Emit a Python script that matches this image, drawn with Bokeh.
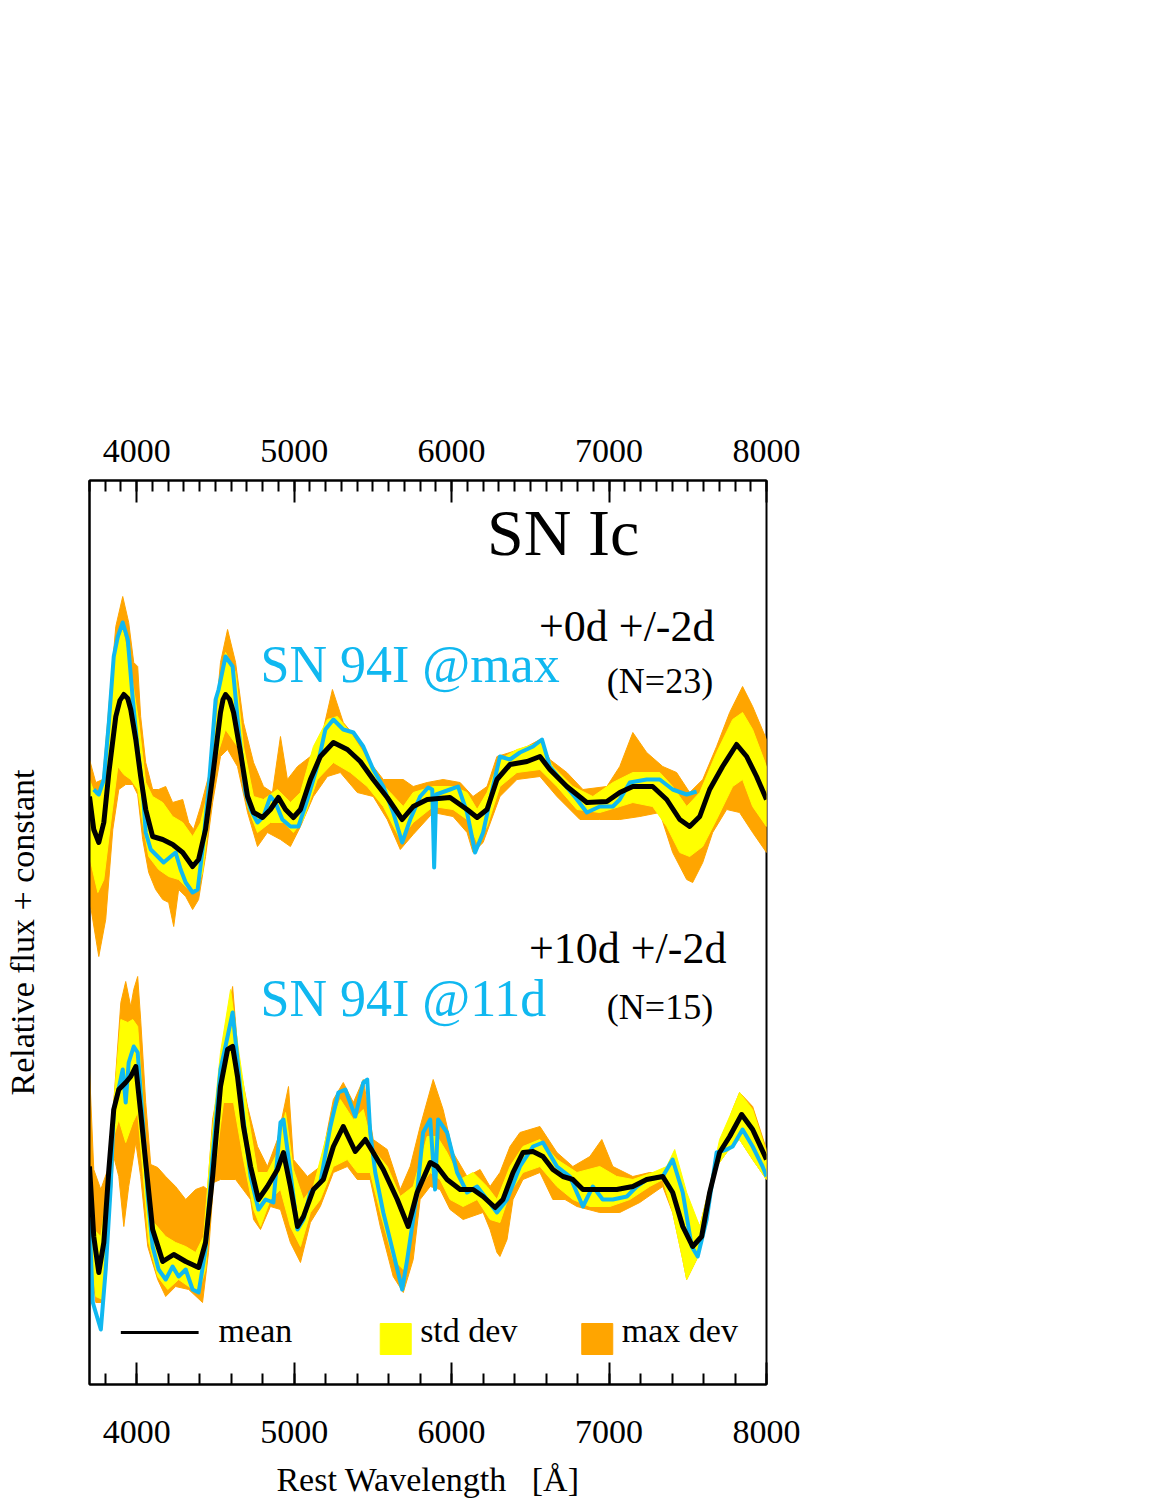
from bokeh.plotting import figure
from bokeh.models import Range1d, LinearAxis, SingleIntervalTicker, FixedTicker, Label
from bokeh.embed import file_html
from bokeh.resources import INLINE

FONT = "Liberation Serif"
BLUE = "#10B8F0"
YELLOW = "#FFFF00"
ORANGE = "#FFA500"

# ---------------- data: relative flux ----------------
# constants added to each epoch's spectra (the "+ constant" of the y label)
TOP_OFFSET = 5.85
BOTTOM_OFFSET = 2.15

# ---- epoch +0d +/-2d (N=23) ----
top_mean_wl = [3700, 3727, 3759, 3791, 3823, 3867, 3893, 3918, 3943, 3962, 3994, 4025, 4057, 4101, 4165, 4228, 4292,
               4355, 4393, 4437, 4482, 4532, 4548, 4564, 4590, 4615, 4659, 4704, 4742, 4799, 4849, 4900, 4945, 4995,
               5040, 5103, 5166, 5249, 5338, 5420, 5502, 5591, 5686, 5756, 5845, 5990, 6098, 6162, 6225,
               6288, 6371, 6479, 6561, 6624, 6732, 6859, 6986, 7068, 7151, 7277, 7366, 7449, 7512, 7576,
               7639, 7721, 7810, 7874, 7937, 8000]
top_mean = [0.03, -0.30, -0.43, -0.23, 0.27, 0.83, 0.99, 1.05, 1.01, 0.90, 0.60, 0.23, -0.10, -0.37, -0.40, -0.45, -0.53,
            -0.67, -0.60, -0.30, 0.23, 0.87, 1.00, 1.05, 1.00, 0.87, 0.47, 0.03, -0.13, -0.18, -0.10, 0.02, -0.10, -0.18,
            -0.10, 0.20, 0.43, 0.57, 0.50, 0.38, 0.20, 0.02, -0.20, -0.07, 0.00, 0.02, -0.10, -0.18, -0.10,
            0.20, 0.35, 0.38, 0.43, 0.30, 0.13, -0.03, -0.02, 0.07, 0.13, 0.13, 0.00, -0.20, -0.27, -0.17,
            0.10, 0.33, 0.55, 0.43, 0.23, 0.00]

top_94i_wl = [3727, 3759, 3791, 3823, 3854, 3880, 3911, 3943, 3975, 4006, 4038, 4057, 4089, 4133, 4171,
              4216, 4247, 4279, 4311, 4355, 4387, 4418, 4456, 4501, 4520, 4564, 4609, 4647, 4691, 4723,
              4767, 4805, 4849, 4881, 4925, 4976, 5027, 5084, 5147, 5198, 5249, 5312, 5376, 5439, 5502,
              5566, 5629, 5686, 5737, 5800, 5851, 5877, 5889, 5902, 5990, 6041, 6098, 6149, 6200, 6263,
              6307, 6371, 6434, 6517, 6574, 6624, 6707, 6796, 6859, 6941, 7024, 7068, 7132, 7239, 7322,
              7404, 7493, 7556]
top_94i = [0.10, 0.05, 0.20, 0.77, 1.43, 1.63, 1.77, 1.60, 1.00, 0.50, 0.10, -0.33, -0.50, -0.57, -0.63,
           -0.57, -0.53, -0.70, -0.83, -0.93, -0.90, -0.50, 0.10, 1.00, 1.10, 1.43, 1.33, 0.70, 0.07, -0.10,
           -0.23, -0.17, 0.03, -0.03, -0.20, -0.27, -0.27, 0.00, 0.33, 0.70, 0.80, 0.70, 0.67, 0.53, 0.30,
           0.13, -0.13, -0.43, -0.20, 0.03, 0.12, 0.10, -0.68, 0.05, 0.10, 0.13, -0.13, -0.53, -0.33, 0.13,
           0.43, 0.40, 0.47, 0.53, 0.60, 0.33, 0.17, 0.00, -0.13, -0.07, -0.07, 0.00, 0.17, 0.20, 0.20,
           0.10, 0.05, 0.08]

top_max_hi_wl = [3700, 3740, 3784, 3823, 3867, 3911, 3949, 3981, 4006, 4025, 4057, 4101, 4139, 4184, 4228,
                 4292, 4330, 4361, 4406, 4456, 4501, 4532, 4577, 4628, 4678, 4742, 4805, 4862, 4913, 4957,
                 5021, 5103, 5166, 5243, 5312, 5401, 5483, 5566, 5693, 5756, 5845, 5946, 6054, 6136, 6225,
                 6288, 6371, 6479, 6561, 6624, 6732, 6834, 6986, 7068, 7151, 7239, 7341, 7429, 7512, 7595,
                 7683, 7766, 7848, 7912, 8000]
top_max_hi = [0.40, 0.17, 0.20, 0.93, 1.73, 2.03, 1.77, 1.37, 1.33, 0.83, 0.37, 0.10, 0.10, 0.13, -0.03,
              0.00, -0.23, -0.30, -0.07, 0.23, 0.83, 1.37, 1.70, 1.37, 0.77, 0.37, 0.13, 0.07, 0.63, 0.20,
              0.33, 0.43, 0.57, 1.10, 0.77, 0.60, 0.37, 0.20, 0.20, 0.13, 0.17, 0.20, 0.17, 0.03, 0.13,
              0.43, 0.47, 0.53, 0.60, 0.40, 0.27, 0.10, 0.13, 0.33, 0.67, 0.47, 0.33, 0.27, 0.07, 0.20,
              0.53, 0.87, 1.13, 0.93, 0.60]

top_max_lo_wl = [3700, 3759, 3803, 3848, 3886, 3930, 3975, 4006, 4038, 4076, 4120, 4165, 4203, 4235, 4266,
                 4311, 4355, 4393, 4437, 4482, 4532, 4577, 4640, 4704, 4767, 4830, 4913, 4976, 5040, 5122,
                 5211, 5293, 5401, 5502, 5591, 5674, 5756, 5883, 6009, 6098, 6136, 6200, 6307, 6415, 6561,
                 6669, 6815, 6941, 7068, 7195, 7322, 7404, 7493, 7531, 7595, 7658, 7747, 7829, 7912, 8000]
top_max_lo = [-1.00, -1.57, -1.20, -0.30, 0.10, 0.15, 0.15, 0.05, -0.40, -0.73, -0.90, -1.00, -1.03, -1.27, -0.90,
              -0.97, -1.10, -1.00, -0.57, -0.03, 0.43, 0.50, 0.33, -0.13, -0.47, -0.33, -0.40, -0.47, -0.27, 0.03,
              0.23, 0.27, 0.07, 0.03, -0.20, -0.50, -0.35, -0.13, -0.17, -0.33, -0.53, -0.43, 0.03, 0.20, 0.23,
              0.03, -0.20, -0.20, -0.20, -0.17, -0.13, -0.53, -0.80, -0.83, -0.63, -0.33, -0.10, -0.13, -0.33, -0.53]

top_std_hi_wl = [3700, 3740, 3784, 3823, 3867, 3911, 3949, 3981, 4013, 4057, 4101, 4165, 4228, 4292, 4355,
                 4406, 4456, 4501, 4532, 4564, 4628, 4678, 4742, 4805, 4894, 4976, 5040, 5122, 5211, 5274,
                 5357, 5439, 5528, 5610, 5693, 5756, 5883, 6009, 6098, 6162, 6225, 6307, 6415, 6561, 6643,
                 6770, 6897, 7024, 7151, 7322, 7404, 7493, 7576, 7683, 7785, 7848, 7912, 8000]
top_std_hi = [0.20, 0.03, 0.10, 0.77, 1.50, 1.70, 1.40, 1.10, 0.77, 0.17, 0.03, -0.03, -0.17, -0.23, -0.37,
              -0.23, 0.10, 0.70, 1.20, 1.47, 1.27, 0.53, 0.03, 0.00, 0.10, -0.03, 0.07, 0.53, 0.80, 0.83,
              0.67, 0.47, 0.20, 0.07, -0.07, 0.07, 0.13, 0.13, 0.07, -0.10, 0.07, 0.40, 0.50, 0.57, 0.33,
              0.13, 0.03, 0.17, 0.27, 0.27, 0.13, -0.07, 0.07, 0.47, 0.80, 0.87, 0.70, 0.33]

top_std_lo_wl = [3700, 3753, 3791, 3835, 3880, 3918, 3962, 4006, 4038, 4076, 4139, 4203, 4266, 4330, 4374,
                 4418, 4456, 4488, 4564, 4640, 4704, 4767, 4849, 4932, 4995, 5059, 5147, 5249, 5357, 5464,
                 5566, 5674, 5756, 5883, 6009, 6098, 6162, 6225, 6307, 6415, 6561, 6669, 6796, 6941, 7068,
                 7151, 7277, 7366, 7449, 7512, 7595, 7683, 7785, 7848, 7912, 8000]
top_std_lo = [-0.57, -0.93, -0.80, -0.23, 0.33, 0.25, 0.20, 0.10, -0.23, -0.57, -0.70, -0.77, -0.80, -0.90, -0.93,
              -0.73, -0.23, 0.33, 0.70, 0.53, -0.07, -0.33, -0.23, -0.23, -0.33, -0.20, 0.20, 0.37, 0.27, 0.13,
              -0.07, -0.40, -0.23, -0.07, -0.10, -0.20, -0.43, -0.27, 0.13, 0.27, 0.30, 0.13, -0.10, -0.13, -0.07,
              -0.03, -0.07, -0.27, -0.53, -0.57, -0.47, -0.20, 0.13, 0.20, -0.07, -0.27]

# ---- epoch +10d +/-2d (N=15) ----
bot_mean_wl = [3700, 3727, 3759, 3791, 3823, 3854, 3886, 3930, 3962, 3994, 4025, 4057, 4101, 4165, 4235,
               4311, 4393, 4437, 4482, 4532, 4577, 4609, 4640, 4678, 4723, 4773, 4830, 4894, 4932, 4976,
               5021, 5059, 5122, 5185, 5249, 5312, 5388, 5452, 5502, 5566, 5655, 5724, 5781, 5864, 5908,
               5971, 6054, 6136, 6200, 6276, 6326, 6390, 6453, 6517, 6580, 6643, 6707, 6770, 6834, 6941,
               7049, 7151, 7239, 7341, 7404, 7468, 7531, 7588, 7639, 7702, 7766, 7842, 7912, 8000]
bot_mean = [0.03, -0.67, -1.03, -0.73, 0.00, 0.60, 0.80, 0.87, 0.93, 1.03, 0.57, 0.07, -0.60, -0.92, -0.85,
            -0.92, -0.98, -0.73, -0.07, 0.83, 1.20, 1.23, 0.93, 0.43, 0.03, -0.30, -0.17, 0.00, 0.17, -0.17,
            -0.57, -0.47, -0.20, -0.10, 0.23, 0.43, 0.18, 0.30, 0.17, 0.00, -0.30, -0.57, -0.23, 0.07, 0.03,
            -0.10, -0.20, -0.20, -0.27, -0.38, -0.30, -0.03, 0.17, 0.18, 0.13, 0.00, -0.07, -0.10, -0.20, -0.20,
            -0.20, -0.17, -0.10, -0.07, -0.23, -0.57, -0.77, -0.67, -0.23, 0.17, 0.33, 0.55, 0.40, 0.10]

bot_94i_wl = [3700, 3721, 3753, 3772, 3803, 3835, 3854, 3880, 3911, 3930, 3949, 3981, 4006, 4038, 4070,
              4101, 4139, 4184, 4228, 4266, 4311, 4355, 4393, 4437, 4482, 4532, 4577, 4609, 4640, 4678,
              4723, 4773, 4818, 4868, 4913, 4932, 4976, 5021, 5059, 5103, 5166, 5230, 5281, 5325, 5388,
              5439, 5464, 5483, 5515, 5566, 5629, 5686, 5718, 5781, 5819, 5864, 5895, 5914, 5971, 6035,
              6098, 6162, 6225, 6288, 6352, 6434, 6517, 6580, 6669, 6751, 6834, 6897, 6960, 7024, 7113,
              7176, 7239, 7341, 7404, 7468, 7525, 7563, 7620, 7683, 7747, 7785, 7848, 7912, 7975, 8000]
bot_94i = [-0.50, -1.33, -1.50, -1.60, -1.00, -0.17, 0.60, 0.77, 1.00, 0.67, 1.07, 1.23, 1.17, 0.50, -0.27,
           -0.77, -1.00, -1.10, -0.97, -1.07, -1.00, -1.20, -1.23, -0.80, 0.13, 1.00, 1.33, 1.57, 1.10, 0.50,
           -0.07, -0.40, -0.30, -0.33, 0.47, 0.50, -0.03, -0.60, -0.50, -0.23, -0.13, 0.43, 0.77, 0.80, 0.53,
           0.87, 0.90, 0.37, -0.03, -0.43, -0.83, -1.20, -0.90, -0.23, 0.37, 0.50, -0.20, 0.50, 0.37, -0.03,
           -0.23, -0.17, -0.30, -0.43, -0.30, 0.03, 0.23, 0.27, 0.03, -0.07, -0.37, -0.17, -0.30, -0.30, -0.27,
           -0.17, -0.10, -0.07, 0.10, -0.23, -0.77, -0.87, -0.50, 0.17, 0.20, 0.23, 0.40, 0.23, 0.03, -0.07]

bot_max_hi_wl = [3700, 3727, 3772, 3816, 3854, 3899, 3930, 3962, 3981, 4006, 4025, 4057, 4089, 4133, 4184,
                 4247, 4311, 4374, 4425, 4450, 4482, 4513, 4564, 4609, 4647, 4704, 4767, 4830, 4894, 4964,
                 4995, 5084, 5166, 5249, 5312, 5376, 5439, 5502, 5591, 5674, 5737, 5800, 5883, 5946, 6009,
                 6098, 6181, 6244, 6307, 6371, 6434, 6561, 6669, 6770, 6878, 6954, 7024, 7151, 7258, 7341,
                 7404, 7493, 7576, 7639, 7702, 7785, 7829, 7912, 8000]
bot_max_hi = [1.00, 0.00, -0.20, 0.00, 0.67, 1.67, 1.88, 1.63, 1.80, 1.93, 1.50, 0.67, 0.05, 0.02, -0.07,
              -0.17, -0.30, -0.20, -0.17, -0.20, 0.50, 0.77, 1.43, 1.83, 1.10, 0.63, 0.23, 0.03, 0.30, 0.83,
              0.10, -0.07, 0.03, 0.70, 0.87, 0.67, 0.90, 0.30, 0.20, -0.20, 0.03, 0.43, 0.90, 0.60, 0.17,
              -0.07, 0.00, -0.17, -0.03, 0.23, 0.37, 0.43, 0.17, 0.03, 0.13, 0.30, 0.03, -0.07, -0.03, -0.03,
              0.10, -0.30, -0.57, -0.17, 0.23, 0.60, 0.77, 0.63, 0.20]

bot_max_lo_wl = [3700, 3740, 3784, 3816, 3854, 3886, 3918, 3949, 3994, 4025, 4070, 4133, 4184, 4247, 4330,
                 4418, 4456, 4488, 4532, 4628, 4723, 4742, 4786, 4849, 4913, 4976, 5040, 5103, 5166, 5249,
                 5338, 5401, 5483, 5547, 5629, 5693, 5756, 5800, 5864, 5927, 5990, 6073, 6200, 6244, 6288,
                 6307, 6352, 6390, 6453, 6561, 6643, 6720, 6796, 6941, 7068, 7195, 7341, 7404, 7468, 7493,
                 7556, 7620, 7683, 7747, 7829, 7912, 8000]
bot_max_lo = [-0.83, -1.33, -1.33, -0.73, 0.13, -0.07, -0.57, -0.17, 0.27, -0.07, -0.77, -1.10, -1.27, -1.17, -1.20,
              -1.33, -0.83, -0.13, -0.10, -0.10, -0.30, -0.50, -0.60, -0.37, -0.40, -0.73, -0.93, -0.53, -0.37, -0.03,
              0.03, -0.10, -0.10, -0.57, -1.07, -1.23, -0.90, -0.30, -0.17, -0.20, -0.40, -0.50, -0.43, -0.60, -0.83,
              -0.87, -0.70, -0.30, -0.10, -0.03, -0.30, -0.30, -0.37, -0.43, -0.43, -0.33, -0.17, -0.43, -0.90, -1.10,
              -0.90, -0.40, 0.03, 0.17, 0.30, 0.10, -0.10]

bot_std_hi_wl = [3700, 3727, 3772, 3816, 3854, 3899, 3943, 3975, 4006, 4038, 4070, 4108, 4184, 4247, 4311,
                 4374, 4425, 4469, 4532, 4596, 4640, 4704, 4767, 4830, 4894, 4945, 4995, 5059, 5122, 5211,
                 5293, 5376, 5439, 5502, 5591, 5674, 5756, 5845, 5908, 5971, 6054, 6136, 6225, 6288, 6371,
                 6453, 6561, 6669, 6796, 6941, 7049, 7151, 7277, 7366, 7417, 7493, 7576, 7639, 7702, 7766,
                 7829, 7912, 8000]
bot_std_hi = [0.00, -0.60, -0.67, -0.17, 0.67, 1.50, 1.47, 1.50, 1.43, 0.73, -0.27, -0.53, -0.67, -0.73, -0.77,
              -0.83, -0.67, 0.20, 1.17, 1.80, 1.27, 0.57, -0.03, -0.03, 0.17, 0.57, 0.00, -0.30, -0.17, 0.37,
              0.70, 0.50, 0.60, 0.20, 0.03, -0.27, -0.17, 0.33, 0.33, 0.17, -0.10, -0.03, -0.17, -0.30, 0.03,
              0.23, 0.30, 0.10, -0.03, 0.03, -0.07, -0.10, -0.03, 0.03, 0.20, -0.23, -0.57, -0.17, 0.30, 0.53,
              0.77, 0.60, 0.17]

bot_std_lo_wl = [3700, 3740, 3784, 3816, 3854, 3886, 3930, 3975, 4006, 4038, 4076, 4133, 4197, 4266, 4330,
                 4393, 4437, 4482, 4551, 4615, 4678, 4742, 4786, 4849, 4913, 4976, 5040, 5103, 5166, 5249,
                 5338, 5401, 5483, 5547, 5629, 5693, 5737, 5800, 5864, 5927, 5990, 6073, 6162, 6244, 6307,
                 6371, 6453, 6561, 6669, 6770, 6878, 7005, 7132, 7258, 7341, 7404, 7468, 7493, 7556, 7620,
                 7683, 7747, 7829, 7912, 8000]
bot_std_lo = [-0.67, -1.27, -1.30, -0.67, 0.33, 0.50, 0.27, 0.47, 0.57, 0.00, -0.73, -1.07, -1.20, -1.10, -1.17,
              -1.23, -1.00, -0.17, 0.67, 0.67, 0.10, -0.40, -0.57, -0.30, -0.20, -0.57, -0.77, -0.43, -0.30, 0.03,
              0.10, -0.03, -0.03, -0.43, -0.90, -1.00, -0.70, -0.17, -0.03, -0.10, -0.30, -0.37, -0.30, -0.50, -0.53,
              -0.23, -0.03, 0.03, -0.17, -0.30, -0.37, -0.37, -0.30, -0.17, -0.10, -0.43, -0.90, -1.10, -0.90, -0.40,
              0.03, 0.17, 0.30, 0.10, -0.10]

tick_interval = 1000
x_start, x_end = 3700, 8000

# ---------------- figure ----------------
p = figure(width=819, height=1524, x_range=Range1d(x_start, x_end), y_range=Range1d(0, 9.04),
           output_backend="svg", toolbar_location=None,
           min_border_left=81, min_border_right=53, min_border_top=480, min_border_bottom=140)
p.grid.visible = False
p.outline_line_color = "black"
p.outline_line_width = 2
p.background_fill_color = "white"
p.border_fill_color = "white"


def band(hi_wl, hi, lo_wl, lo, off, color):
    xs = list(hi_wl) + list(lo_wl)[::-1]
    ys = [v + off for v in hi] + [v + off for v in lo][::-1]
    return p.patch(xs, ys, fill_color=color, line_color=color, line_width=1)


def shifted(vals, off):
    return [v + off for v in vals]


for (mx_hw, mx_h, mx_lw, mx_l, sd_hw, sd_h, sd_lw, sd_l, s_wl, s_f, m_wl, m_f, off) in [
    (top_max_hi_wl, top_max_hi, top_max_lo_wl, top_max_lo, top_std_hi_wl, top_std_hi, top_std_lo_wl, top_std_lo,
     top_94i_wl, top_94i, top_mean_wl, top_mean, TOP_OFFSET),
    (bot_max_hi_wl, bot_max_hi, bot_max_lo_wl, bot_max_lo, bot_std_hi_wl, bot_std_hi, bot_std_lo_wl, bot_std_lo,
     bot_94i_wl, bot_94i, bot_mean_wl, bot_mean, BOTTOM_OFFSET)]:
    band(mx_hw, mx_h, mx_lw, mx_l, off, ORANGE)
    band(sd_hw, sd_h, sd_lw, sd_l, off, YELLOW)
    p.line(s_wl, shifted(s_f, off), line_color=BLUE, line_width=4, line_join="round")
    p.line(m_wl, shifted(m_f, off), line_color="black", line_width=5, line_join="round")


# ---------------- axes ----------------
def style_x(ax, minor, standoff):
    ax.ticker = SingleIntervalTicker(interval=tick_interval, num_minor_ticks=minor)
    ax.major_tick_in = 22
    ax.major_tick_out = 0
    ax.minor_tick_in = 11
    ax.minor_tick_out = 0
    ax.major_tick_line_width = 2
    ax.minor_tick_line_width = 2
    ax.major_tick_line_color = "black"
    ax.minor_tick_line_color = "black"
    ax.axis_line_width = 2
    ax.axis_line_color = "black"
    ax.major_label_text_font = FONT
    ax.major_label_text_font_size = "34px"
    ax.major_label_text_color = "black"
    ax.major_label_standoff = standoff


bottom = p.xaxis[0]
style_x(bottom, 5, 36)
bottom.axis_label = "Rest Wavelength\u00a0\u00a0\u00a0[Å]"
bottom.axis_label_text_font = FONT
bottom.axis_label_text_font_size = "34px"
bottom.axis_label_text_font_style = "normal"
bottom.axis_label_text_color = "black"
bottom.axis_label_standoff = 15

top = LinearAxis()
style_x(top, 10, 19)
p.add_layout(top, "above")

left = p.yaxis[0]
left.ticker = FixedTicker(ticks=[])
left.major_tick_line_color = None
left.minor_tick_line_color = None
left.axis_line_width = 2
left.axis_label = "Relative flux + constant"
left.axis_label_text_font = FONT
left.axis_label_text_font_size = "34px"
left.axis_label_text_font_style = "normal"
left.axis_label_text_color = "black"
left.axis_label_standoff = 49


# ---------------- annotations ----------------
def lab(x, y, text, size, color="black"):
    p.add_layout(Label(x=x, y=y, text=text, text_font=FONT, text_font_size=size, text_color=color,
                       text_baseline="alphabetic", text_align="left"))


lab(6225, 8.52, "SN Ic", "66px")
lab(6555, 7.58, "+0d +/-2d", "44px")
lab(4786, 7.20, "SN 94I @max", "52px", BLUE)
lab(6986, 7.04, "(N=23)", "36px")
lab(6491, 4.36, "+10d +/-2d", "44px")
lab(4786, 3.86, "SN 94I @11d", "52px", BLUE)
lab(6986, 3.78, "(N=15)", "36px")

# legend key row at the bottom of the frame
p.segment(x0=[3899], y0=[0.52], x1=[4393], y1=[0.52], line_color="black", line_width=3)
p.rect(x=[5645], y=[0.455], width=31, height=31, width_units="screen", height_units="screen",
       fill_color=YELLOW, line_color=YELLOW)
p.rect(x=[6925], y=[0.455], width=31, height=31, width_units="screen", height_units="screen",
       fill_color=ORANGE, line_color=ORANGE)
lab(4520, 0.54, "mean", "34px")
lab(5800, 0.54, "std dev", "34px")
lab(7081, 0.54, "max dev", "34px")

open("out.html", "w").write(file_html(p, INLINE))
